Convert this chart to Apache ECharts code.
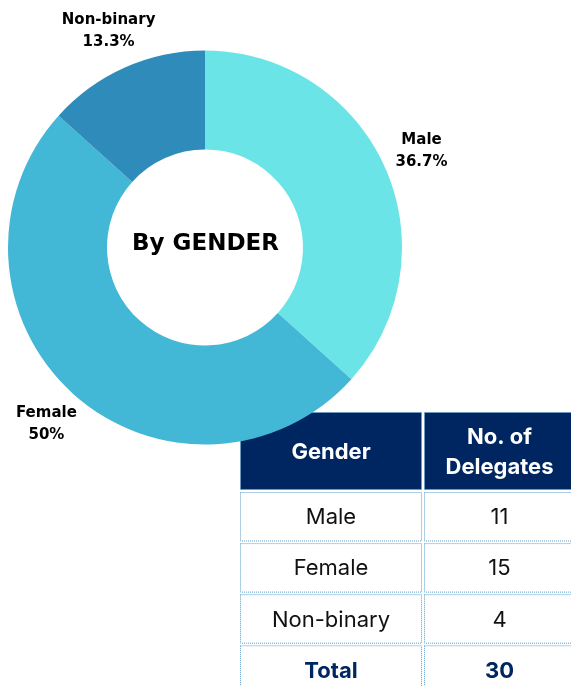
<!DOCTYPE html>
<html>
<head>
<meta charset="utf-8">
<title>Delegates by gender</title>
<script src="https://cdn.jsdelivr.net/npm/echarts@6.0.0/dist/echarts.min.js"></script>
<style>
    html, body { margin: 0; padding: 0; background: #fff; }
    #gender_donut { width: 571px; height: 686px; }
</style>
</head>
<body>
<div id="gender_donut"></div>
<script>
// Chart data
// ------------------------------

var genders = ['Male', 'Female', 'Non-binary'];
var delegates = [11, 15, 4];
var tableHeader = ['Gender', 'No. of\nDelegates'];
var totalLabel = 'Total';
var centerTitle = 'By GENDER';


// Setup module
// ------------------------------

var EchartsGenderDonut = function() {

    var _genderDonut = function() {
        if (typeof echarts == 'undefined') {
            console.warn('Warning - echarts.min.js is not loaded.');
            return;
        }

        var donut_element = document.getElementById('gender_donut');
        if (!donut_element) {
            return;
        }

        var donut = echarts.init(donut_element, null, { renderer: 'canvas' });

        // Common styles
        var sliceColors = ['#6be4e8', '#42b7d6', '#2e8bba'];
        var navy = '#002661';
        var cellBorder = '#5c9fca';
        var tableFont = 'Inter, "Noto Sans", sans-serif';
        var labelFont = '"DejaVu Sans", sans-serif';

        var pieData = genders.map(function(name, i) {
            return { name: name, value: delegates[i], itemStyle: { color: sliceColors[i] } };
        });

        var total = delegates.reduce(function(a, b) { return a + b; }, 0);


        //
        // Table built from the same arrays
        //

        var colX = [240.5, 424.5];
        var colW = [181, 150];
        var headerTop = 412.5;
        var headerH = 77;
        var rowTop = 492.5;
        var rowPitch = 51.1;
        var rowH = 48.5;

        var tableRows = genders.map(function(name, i) {
            return [name, String(delegates[i])];
        });
        tableRows.push([totalLabel, String(total)]);

        var cells = [];

        var addCell = function(col, top, height, fill, text, font, color, lineHeight) {
            cells.push({
                type: 'rect',
                z: 0,
                shape: { x: colX[col], y: top, width: colW[col], height: height },
                style: { fill: fill, stroke: cellBorder, lineWidth: 1, lineDash: [1, 1] }
            });
            cells.push({
                type: 'text',
                z: 1,
                x: colX[col] + colW[col] / 2,
                y: top + height / 2 + 1,
                style: {
                    text: text,
                    fill: color,
                    font: font,
                    lineHeight: lineHeight || 26,
                    align: 'center',
                    verticalAlign: 'middle'
                }
            });
        };

        tableHeader.forEach(function(label, col) {
            addCell(col, headerTop, headerH, navy, label, 'bold 22px ' + tableFont, '#fff', 30);
        });

        tableRows.forEach(function(row, r) {
            var isTotal = r === tableRows.length - 1;
            row.forEach(function(text, col) {
                addCell(col, rowTop + r * rowPitch, rowH, '#fff', text,
                    (isTotal ? 'bold ' : '') + '22px ' + tableFont,
                    isTotal ? navy : '#111');
            });
        });

        // Center title
        cells.push({
            type: 'text',
            z: 5,
            x: 205.5,
            y: 244,
            style: {
                text: centerTitle,
                fill: '#000',
                font: 'bold 23px ' + labelFont,
                align: 'center',
                verticalAlign: 'middle'
            }
        });


        //
        // Chart config
        //

        donut.setOption({
            animation: false,
            graphic: { elements: cells },
            series: [
                {
                    name: 'Gender',
                    type: 'pie',
                    z: 2,
                    center: [205, 247.5],
                    radius: [98, 197],
                    startAngle: 90,
                    clockwise: true,
                    silent: true,
                    label: { show: false },
                    labelLine: { show: false },
                    data: pieData
                },
                {
                    // invisible ring that only carries the outside labels
                    name: 'Labels',
                    type: 'pie',
                    z: 3,
                    center: [205, 247.5],
                    radius: [198, 270],
                    startAngle: 90,
                    clockwise: true,
                    silent: true,
                    percentPrecision: 1,
                    itemStyle: { color: 'rgba(0,0,0,0)' },
                    label: {
                        show: true,
                        position: 'inside',
                        formatter: '{b}\n{d}%',
                        color: '#000',
                        fontFamily: labelFont,
                        fontWeight: 'bold',
                        fontSize: 15,
                        lineHeight: 22
                    },
                    labelLine: { show: false },
                    data: genders.map(function(name, i) {
                        return { name: name, value: delegates[i] };
                    })
                }
            ]
        });

        // On window resize
        var resizeCharts;
        window.addEventListener('resize', function() {
            clearTimeout(resizeCharts);
            resizeCharts = setTimeout(function () {
                donut.resize();
            }, 200);
        });
    };

    return {
        init: function() {
            _genderDonut();
        }
    }
}();


// Initialize module
// ------------------------------

document.addEventListener('DOMContentLoaded', function() {
    EchartsGenderDonut.init();
});
</script>
</body>
</html>
